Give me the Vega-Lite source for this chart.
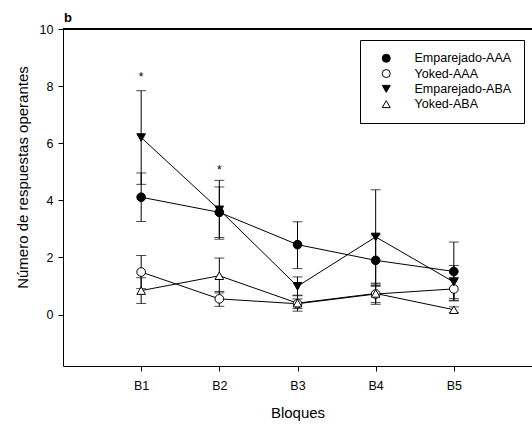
{
  "$schema": "https://vega.github.io/schema/vega-lite/v6.json",
  "width": 469,
  "height": 337,
  "autosize": {"type": "none"},
  "padding": {"left": 63, "top": 29, "right": 0, "bottom": 60},
  "background": "white",
  "title": {"text": "b", "anchor": "start", "frame": "group", "font": "Liberation Sans", "fontSize": 13, "fontWeight": "bold", "color": "black", "offset": 4, "dx": 1, "dy": 6},
  "config": {
    "view": {"stroke": null},
    "axis": {"grid": false, "domainColor": "black", "tickColor": "black", "labelColor": "black", "titleColor": "black", "labelFont": "Liberation Sans", "titleFont": "Liberation Sans", "labelFontSize": 12.5, "titleFontSize": 15, "titleFontWeight": "normal", "tickSize": 5}
  },
  "data": {"values": [
    {"bloque": 1, "serie": "Emparejado-AAA", "media": 4.11, "inf": 3.26, "sup": 4.96},
    {"bloque": 2, "serie": "Emparejado-AAA", "media": 3.58, "inf": 2.70, "sup": 4.47},
    {"bloque": 3, "serie": "Emparejado-AAA", "media": 2.45, "inf": 1.61, "sup": 3.25},
    {"bloque": 4, "serie": "Emparejado-AAA", "media": 1.90, "inf": 0.99, "sup": 2.79},
    {"bloque": 5, "serie": "Emparejado-AAA", "media": 1.51, "inf": 0.48, "sup": 2.54},
    {"bloque": 1, "serie": "Yoked-AAA", "media": 1.49, "inf": 0.91, "sup": 2.07},
    {"bloque": 2, "serie": "Yoked-AAA", "media": 0.55, "inf": 0.29, "sup": 0.81},
    {"bloque": 3, "serie": "Yoked-AAA", "media": 0.38, "inf": 0.21, "sup": 0.55},
    {"bloque": 4, "serie": "Yoked-AAA", "media": 0.72, "inf": 0.42, "sup": 1.02},
    {"bloque": 5, "serie": "Yoked-AAA", "media": 0.90, "inf": 0.50, "sup": 1.30},
    {"bloque": 1, "serie": "Emparejado-ABA", "media": 6.20, "inf": 4.56, "sup": 7.84},
    {"bloque": 2, "serie": "Emparejado-ABA", "media": 3.67, "inf": 2.64, "sup": 4.70},
    {"bloque": 3, "serie": "Emparejado-ABA", "media": 0.99, "inf": 0.66, "sup": 1.32},
    {"bloque": 4, "serie": "Emparejado-ABA", "media": 2.72, "inf": 1.07, "sup": 4.37},
    {"bloque": 5, "serie": "Emparejado-ABA", "media": 1.14, "inf": 0.56, "sup": 1.72},
    {"bloque": 1, "serie": "Yoked-ABA", "media": 0.84, "inf": 0.39, "sup": 1.29},
    {"bloque": 2, "serie": "Yoked-ABA", "media": 1.36, "inf": 0.76, "sup": 1.98},
    {"bloque": 3, "serie": "Yoked-ABA", "media": 0.40, "inf": 0.12, "sup": 0.68},
    {"bloque": 4, "serie": "Yoked-ABA", "media": 0.74, "inf": 0.36, "sup": 1.10},
    {"bloque": 5, "serie": "Yoked-ABA", "media": 0.17, "inf": 0.07, "sup": 0.27}
  ]},
  "encoding": {
    "x": {"field": "bloque", "type": "quantitative", "scale": {"domain": [0, 6], "nice": false, "zero": false},
          "axis": {"title": "Bloques", "values": [1, 2, 3, 4, 5], "labelExpr": "'B' + datum.value", "labelPadding": 8, "titlePadding": 14}}
  },
  "layer": [
    {
      "mark": {"type": "line", "color": "black", "strokeWidth": 1},
      "encoding": {
        "y": {"field": "media", "type": "quantitative", "scale": {"domain": [-1.8, 10], "nice": false, "zero": false},
              "axis": {"title": "Número de respuestas operantes", "values": [0, 2, 4, 6, 8, 10], "labelPadding": 5, "titleY": 148, "titlePadding": 9}},
        "detail": {"field": "serie"}
      }
    },
    {
      "mark": {"type": "rule", "color": "black", "strokeWidth": 1},
      "encoding": {
        "x": {"value": 0},
        "x2": {"value": 469},
        "y": {"datum": 10, "type": "quantitative", "scale": {"domain": [-1.8, 10], "nice": false, "zero": false},
              "axis": {"title": "Número de respuestas operantes", "values": [0, 2, 4, 6, 8, 10], "labelPadding": 5, "titleY": 148, "titlePadding": 9}}
      }
    },
    {
      "mark": {"type": "rule", "color": "black", "strokeWidth": 1},
      "encoding": {
        "y": {"field": "inf", "type": "quantitative", "scale": {"domain": [-1.8, 10], "nice": false, "zero": false},
              "axis": {"title": "Número de respuestas operantes", "values": [0, 2, 4, 6, 8, 10], "labelPadding": 5, "titleY": 148, "titlePadding": 9}},
        "y2": {"field": "sup"}
      }
    },
    {
      "mark": {"type": "tick", "orient": "horizontal", "size": 10, "thickness": 1, "color": "black"},
      "encoding": {
        "y": {"field": "sup", "type": "quantitative", "scale": {"domain": [-1.8, 10], "nice": false, "zero": false},
              "axis": {"title": "Número de respuestas operantes", "values": [0, 2, 4, 6, 8, 10], "labelPadding": 5, "titleY": 148, "titlePadding": 9}}
      }
    },
    {
      "mark": {"type": "tick", "orient": "horizontal", "size": 10, "thickness": 1, "color": "black"},
      "encoding": {
        "y": {"field": "inf", "type": "quantitative", "scale": {"domain": [-1.8, 10], "nice": false, "zero": false},
              "axis": {"title": "Número de respuestas operantes", "values": [0, 2, 4, 6, 8, 10], "labelPadding": 5, "titleY": 148, "titlePadding": 9}}
      }
    },
    {
      "mark": {"type": "point", "filled": true, "strokeWidth": 1, "opacity": 1, "size": 75},
      "encoding": {
        "y": {"field": "media", "type": "quantitative", "scale": {"domain": [-1.8, 10], "nice": false, "zero": false},
              "axis": {"title": "Número de respuestas operantes", "values": [0, 2, 4, 6, 8, 10], "labelPadding": 5, "titleY": 148, "titlePadding": 9}},
        "fill": {"field": "serie", "type": "nominal", "scale": {"domain": ["Emparejado-AAA", "Yoked-AAA", "Emparejado-ABA", "Yoked-ABA"], "range": ["black", "white", "black", "white"]},
          "legend": {"title": null, "orient": "none", "legendX": 297, "legendY": 11, "strokeColor": "black", "fillColor": "white", "padding": 12, "labelFont": "Liberation Sans", "labelFontSize": 12.5, "labelColor": "black", "symbolSize": 64, "symbolStrokeWidth": 1, "labelOffset": 22, "symbolOffset": 8, "rowPadding": 2.3}},
        "stroke": {"field": "serie", "type": "nominal", "scale": {"domain": ["Emparejado-AAA", "Yoked-AAA", "Emparejado-ABA", "Yoked-ABA"], "range": ["black", "black", "black", "black"]},
          "legend": {"title": null, "orient": "none", "legendX": 297, "legendY": 11, "strokeColor": "black", "fillColor": "white", "padding": 12, "labelFont": "Liberation Sans", "labelFontSize": 12.5, "labelColor": "black", "symbolSize": 64, "symbolStrokeWidth": 1, "labelOffset": 22, "symbolOffset": 8, "rowPadding": 2.3}},
        "shape": {"field": "serie", "type": "nominal", "scale": {"domain": ["Emparejado-AAA", "Yoked-AAA", "Emparejado-ABA", "Yoked-ABA"], "range": ["circle", "circle", "triangle-down", "triangle-up"]},
          "legend": {"title": null, "orient": "none", "legendX": 297, "legendY": 11, "strokeColor": "black", "fillColor": "white", "padding": 12, "labelFont": "Liberation Sans", "labelFontSize": 12.5, "labelColor": "black", "symbolSize": 64, "symbolStrokeWidth": 1, "labelOffset": 22, "symbolOffset": 8, "rowPadding": 2.3}}
      }
    },
    {
      "data": {"values": [
        {"bloque": 1, "altura": 8.18, "marca": "*"},
        {"bloque": 2, "altura": 4.94, "marca": "*"}
      ]},
      "mark": {"type": "text", "font": "Liberation Sans", "fontSize": 12, "baseline": "alphabetic", "align": "center", "color": "black"},
      "encoding": {
        "y": {"field": "altura", "type": "quantitative", "scale": {"domain": [-1.8, 10], "nice": false, "zero": false},
              "axis": {"title": "Número de respuestas operantes", "values": [0, 2, 4, 6, 8, 10], "labelPadding": 5, "titleY": 148, "titlePadding": 9}},
        "text": {"field": "marca"}
      }
    }
  ]
}
